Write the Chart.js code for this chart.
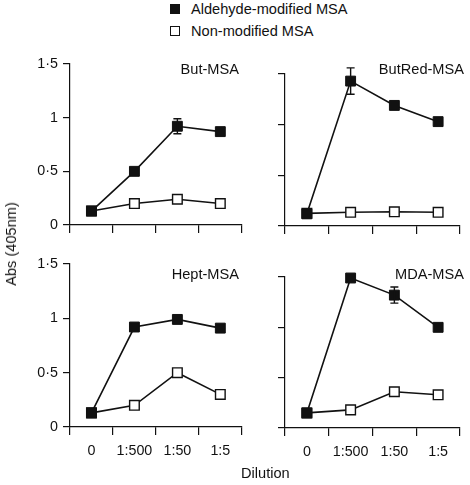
<!DOCTYPE html>
<html><head><meta charset="utf-8">
<script src="https://cdn.jsdelivr.net/npm/chart.js@4"></script>
<style>
body{margin:0;width:470px;height:485px;background:#fff;position:relative;overflow:hidden;font-family:'Liberation Sans',Arial,sans-serif;color:#111}
canvas{position:absolute}
.t{position:absolute;font-size:14.6px;line-height:14px;white-space:nowrap}
.sq{position:absolute;width:10px;height:10px;box-sizing:border-box}
</style>
</head><body>
<div class="sq" style="left:170px;top:4px;background:#111"></div>
<div class="t" style="left:191px;top:2px">Aldehyde-modified MSA</div>
<div class="sq" style="left:170px;top:26px;border:1.3px solid #111;background:#fff"></div>
<div class="t" style="left:191px;top:24px">Non-modified MSA</div>

<canvas id="c1" width="250" height="195" style="left:0;top:50px"></canvas>
<canvas id="c2" width="220" height="195" style="left:250px;top:50px"></canvas>
<canvas id="c3" width="250" height="235" style="left:0;top:250px"></canvas>
<canvas id="c4" width="220" height="235" style="left:250px;top:250px"></canvas>

<div class="t" style="right:231px;top:62px">But-MSA</div>
<div class="t" style="right:6px;top:62px">ButRed-MSA</div>
<div class="t" style="right:231px;top:267px">Hept-MSA</div>
<div class="t" style="right:6px;top:267px">MDA-MSA</div>

<div class="t" style="left:11px;top:244px;transform:translate(-50%,-50%) rotate(-90deg)">Abs (405nm)</div>
<div class="t" style="left:241px;top:466px">Dilution</div>

<script>
// ---- data ----
const categories = ['0', '1:500', '1:50', '1:5'];
const yTickValues = [0, 0.5, 1, 1.5];
const yTickLabels = ['0', '0·5', '1', '1·5'];

const butModified      = [0.13, 0.50, 0.92, 0.87];
const butModifiedErr   = [0, 0, 0.07, 0];
const butNonModified   = [0.13, 0.20, 0.24, 0.20];

const butRedModified    = [0.12, 1.43, 1.19, 1.03];
const butRedModifiedErr = [0, 0.13, 0, 0];
const butRedNonModified = [0.125, 0.135, 0.14, 0.135];

const heptModified      = [0.13, 0.92, 0.99, 0.91];
const heptModifiedErr   = [0, 0, 0, 0];
const heptNonModified   = [0.13, 0.20, 0.50, 0.30];

const mdaModified       = [0.15, 1.49, 1.32, 1.00];
const mdaModifiedErr    = [0, 0, 0.08, 0];
const mdaNonModified    = [0.15, 0.18, 0.36, 0.33];

// ---- rendering ----
Chart.defaults.font.family = "'Liberation Sans', Arial, sans-serif";
Chart.defaults.font.size = 14;
Chart.defaults.color = '#111';

const errorBars = {
  id: 'errorBars',
  afterDatasetsDraw(chart) {
    const ctx = chart.ctx, ys = chart.scales.y;
    chart.data.datasets.forEach((ds, i) => {
      if (!ds.errors) return;
      const meta = chart.getDatasetMeta(i);
      meta.data.forEach((pt, j) => {
        const e = ds.errors[j];
        if (!e) return;
        const v = ds.data[j];
        const y1 = ys.getPixelForValue(v + e), y2 = ys.getPixelForValue(v - e);
        ctx.save();
        ctx.strokeStyle = '#111'; ctx.lineWidth = 1.4;
        ctx.beginPath();
        ctx.moveTo(pt.x, y1); ctx.lineTo(pt.x, y2);
        ctx.moveTo(pt.x - 4, y1); ctx.lineTo(pt.x + 4, y1);
        ctx.moveTo(pt.x - 4, y2); ctx.lineTo(pt.x + 4, y2);
        ctx.stroke();
        ctx.restore();
      });
    });
  }
};

function makePanel(id, mod, modErr, non, cfg) {
  new Chart(document.getElementById(id), {
    type: 'line',
    data: {
      labels: categories,
      datasets: [
        { data: mod, errors: modErr, borderColor: '#111', borderWidth: 1.6,
          pointStyle: 'rect', pointRadius: 7, pointBorderWidth: 1,
          pointBackgroundColor: '#111', pointBorderColor: '#111', clip: false, tension: 0 },
        { data: non, borderColor: '#111', borderWidth: 1.6,
          pointStyle: 'rect', pointRadius: 6.8, pointBorderWidth: 1.4,
          pointBackgroundColor: '#fff', pointBorderColor: '#111', clip: false, tension: 0 }
      ]
    },
    options: {
      responsive: false, animation: false, devicePixelRatio: 1,
      layout: { padding: { left: 0, right: cfg.right, top: cfg.top, bottom: 0 } },
      plugins: { legend: { display: false }, tooltip: { enabled: false } },
      scales: {
        x: {
          type: 'category', offset: true,
          grid: { display: true, drawOnChartArea: false, drawTicks: true, tickLength: 8, offset: true, color: '#111', lineWidth: 1.2 },
          border: { display: true, color: '#111', width: 1.2 },
          ticks: { display: cfg.xLabels, padding: 7, maxRotation: 0, font: { size: 14.3 } },
          afterFit: s => { s.height = cfg.xh; }
        },
        y: {
          min: 0, max: 1.5,
          afterBuildTicks: s => { s.ticks = yTickValues.map(v => ({ value: v })); },
          grid: { display: true, drawOnChartArea: false, drawTicks: true, tickLength: 7, color: '#111', lineWidth: 1.2 },
          border: { display: true, color: '#111', width: 1.2 },
          ticks: { display: cfg.yLabels, padding: 5, font: { size: 14.3 },
                   callback: v => yTickLabels[yTickValues.indexOf(v)] },
          afterFit: s => { s.width = cfg.yw; }
        }
      }
    },
    plugins: [errorBars]
  });
}

makePanel('c1', butModified, butModifiedErr, butNonModified,
  { right: 6, top: 14, xh: 20, yw: 70, xLabels: false, yLabels: true });
makePanel('c2', butRedModified, butRedModifiedErr, butRedNonModified,
  { right: 10, top: 24, xh: 19, yw: 35, xLabels: false, yLabels: false });
makePanel('c3', heptModified, heptModifiedErr, heptNonModified,
  { right: 6, top: 14, xh: 58, yw: 70, xLabels: true, yLabels: true });
makePanel('c4', mdaModified, mdaModifiedErr, mdaNonModified,
  { right: 10, top: 27, xh: 57, yw: 35, xLabels: true, yLabels: false });
</script>
</body></html>
